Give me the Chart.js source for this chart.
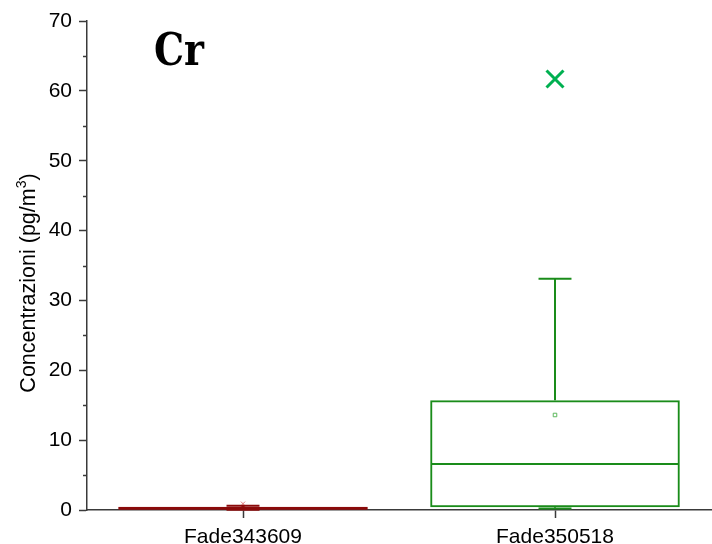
<!DOCTYPE html>
<html lang="it">
<head>
  <meta charset="UTF-8" />
  <title>Cr - Box plot</title>
  <script src="https://cdn.jsdelivr.net/npm/chart.js"></script>
  <style>
    body { margin: 0; background: #fff; }
    #boxChart { display: block; }
  </style>
</head>
<body>
  <canvas id="boxChart" width="712" height="544"></canvas>

  <script>
    // box plot statistics (pg/m3)
    const categories = ['Fade343609', 'Fade350518'];
    const minVals = [0.02, 0.2];
    const q1Vals = [0.05, 0.4];
    const medianVals = [0.2, 6.6];
    const q3Vals = [0.45, 15.7];
    const maxVals = [0.6, 33.1];
    const meanVals = [0.25, 13.6];
    const outlierVals = [0.9, 61.7];
    const yTickMin = 0, yTickMax = 70, yTickStep = 10;

    const boxColors = ['#8b0a0a', '#1a8c1a'];
    const meanColors = ['#c05050', '#5cb85c'];
    const outlierColors = ['#e07a7a', '#00b050'];

    const axisColor = '#3a3a3a';

    // whiskers, caps, median, minor ticks, title and y label
    const boxPlot = {
      id: 'boxPlot',
      afterDatasetsDraw(chart) {
        const { ctx, scales: { x, y } } = chart;
        const bars = chart.getDatasetMeta(0).data;
        const line = (x1, y1, x2, y2) => {
          ctx.beginPath();
          ctx.moveTo(x1, y1);
          ctx.lineTo(x2, y2);
          ctx.stroke();
        };

        ctx.save();
        bars.forEach((bar, i) => {
          const cx = bar.x;
          const half = bar.width / 2;
          const cap = bar.width * 0.066;
          ctx.strokeStyle = boxColors[i];
          ctx.lineWidth = 2;
          const yMed = y.getPixelForValue(medianVals[i]);
          line(cx - half + 1, yMed, cx + half - 1, yMed);
          const yQ3 = y.getPixelForValue(q3Vals[i]);
          const yMax = y.getPixelForValue(maxVals[i]);
          line(cx, yQ3, cx, yMax);
          line(cx - cap, yMax, cx + cap, yMax);
          const yQ1 = y.getPixelForValue(q1Vals[i]);
          const yMin = y.getPixelForValue(minVals[i]);
          line(cx, yQ1, cx, yMin);
          line(cx - cap, yMin, cx + cap, yMin);
        });

        // minor ticks on the y axis
        ctx.strokeStyle = axisColor;
        ctx.lineWidth = 1.5;
        for (let v = y.min + yTickStep / 2; v < y.max; v += yTickStep) {
          const py = Math.round(y.getPixelForValue(v)) + 0.5;
          line(x.left - 4, py, x.left, py);
        }

        // element label
        ctx.save();
        ctx.fillStyle = '#000';
        ctx.font = 'bold 44px "DejaVu Serif"';
        ctx.textBaseline = 'alphabetic';
        ctx.textAlign = 'left';
        ctx.translate(154, 65);
        ctx.scale(0.86, 1);
        ctx.fillText('Cr', 0, 0);
        ctx.restore();

        // y axis title with a real superscript
        const main = 'Concentrazioni (pg/m';
        ctx.fillStyle = '#000';
        ctx.font = '21.5px "Liberation Sans"';
        const wMain = ctx.measureText(main).width;
        const wClose = ctx.measureText(')').width;
        ctx.font = '14px "Liberation Sans"';
        const wSup = ctx.measureText('3').width;
        const total = wMain + wSup + wClose;
        ctx.translate(35, 283);
        ctx.rotate(-Math.PI / 2);
        let tx = -total / 2;
        ctx.font = '21.5px "Liberation Sans"';
        ctx.fillText(main, tx, 0);
        tx += wMain;
        ctx.font = '14px "Liberation Sans"';
        ctx.fillText('3', tx, -9);
        tx += wSup;
        ctx.font = '21.5px "Liberation Sans"';
        ctx.fillText(')', tx, 0);
        ctx.restore();
      }
    };

    const ctx = document.getElementById('boxChart').getContext('2d');
    new Chart(ctx, {
      type: 'bar',
      data: {
        labels: categories,
        datasets: [
          {
            label: 'IQR',
            data: q1Vals.map((q1, i) => [q1, q3Vals[i]]),
            backgroundColor: 'rgba(0,0,0,0)',
            borderColor: boxColors,
            borderWidth: 2,
            borderSkipped: false,
            barPercentage: 0.8,
            categoryPercentage: 1.0
          },
          {
            type: 'line',
            label: 'Media',
            data: meanVals,
            showLine: false,
            pointStyle: 'rect',
            pointRadius: 2.5,
            pointBorderWidth: 1,
            pointBorderColor: meanColors,
            pointBackgroundColor: '#fff'
          },
          {
            type: 'line',
            label: 'Outlier',
            data: outlierVals,
            showLine: false,
            pointStyle: 'crossRot',
            pointRadius: [3, 12],
            pointBorderWidth: [1, 3],
            pointBorderColor: outlierColors
          }
        ]
      },
      options: {
        responsive: false,
        animation: false,
        layout: {
          autoPadding: false,
          padding: { top: 21, right: 1, left: 0, bottom: 0 }
        },
        plugins: {
          legend: { display: false },
          tooltip: { enabled: false }
        },
        scales: {
          x: {
            offset: true,
            grid: {
              offset: false,
              drawOnChartArea: false,
              tickLength: 8,
              tickColor: axisColor,
              tickWidth: 1.5
            },
            border: { color: axisColor, width: 1.5 },
            ticks: {
              color: '#000',
              padding: 7,
              font: { family: 'Liberation Sans', size: 21 }
            },
            afterFit: (scale) => {
              scale.height = 34;
              scale.paddingLeft = 0;
              scale.paddingRight = 0;
            }
          },
          y: {
            min: yTickMin,
            max: yTickMax,
            grid: {
              drawOnChartArea: false,
              tickLength: 8,
              tickColor: axisColor,
              tickWidth: 1.5
            },
            border: { color: axisColor, width: 1.5 },
            ticks: {
              stepSize: yTickStep,
              color: '#000',
              padding: 7,
              font: { family: 'Liberation Sans', size: 21 }
            },
            afterFit: (scale) => { scale.width = 87; }
          }
        }
      },
      plugins: [boxPlot]
    });
  </script>
</body>
</html>
